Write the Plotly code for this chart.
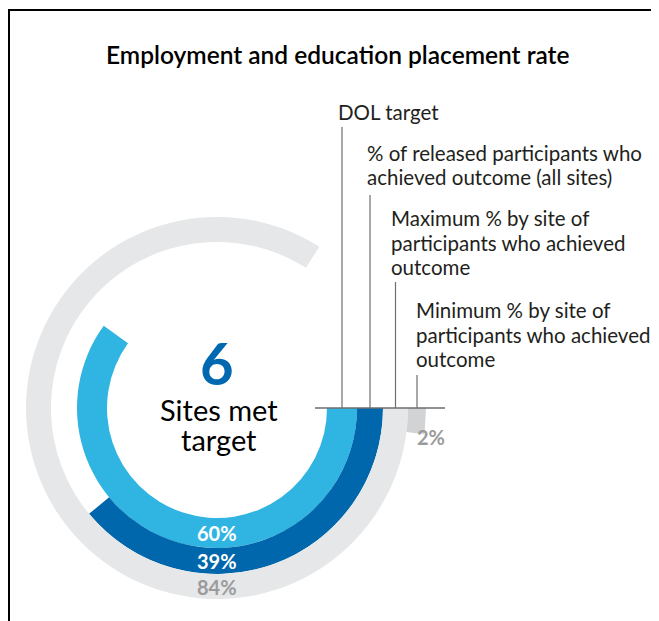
import plotly.graph_objects as go

# data
series = ["DOL target", "% of released participants who achieved outcome (all sites)",
          "Maximum % by site of participants who achieved outcome",
          "Minimum % by site of participants who achieved outcome"]
values = [60, 39, 84, 2]
sites_met = 6

legend_lines = [
    ["DOL target"],
    ["% of released participants who", "achieved outcome (all sites)"],
    ["Maximum % by site of", "participants who achieved", "outcome"],
    ["Minimum % by site of", "participants who achieved", "outcome"],
]

# layout constants, in pixels of the page (the page body has an 8px margin)
OFF = 8
W, H = 651, 613
cx, cy = 217, 408
R = 209
ring_base = [110, 140, 166, 191]
ring_thick = [30, 26, 25, 18]
colors = ["#30b5e3", "#0067ac", "#e6e7e8", "#d2d3d5"]
label_colors = ["white", "white", "#9b9b9b", "#9b9b9b"]
line_color = "#6d6e71"
FONT = "Lato"


def px(x):
    return (x - OFF) / W


def py(y):
    return 1 - (y - OFF) / H


fig = go.Figure()

for i, v in enumerate(values):
    fig.add_trace(go.Barpolar(
        r=[ring_thick[i]], base=[ring_base[i]],
        theta=[v * 1.8], width=[v * 3.6],
        marker=dict(color=colors[i], line=dict(width=0)),
        name=series[i], hoverinfo="name",
    ))

fig.update_layout(
    width=W, height=H,
    margin=dict(l=0, r=0, t=0, b=0, pad=0),
    paper_bgcolor="white",
    showlegend=False,
    polar=dict(
        domain=dict(x=[px(cx - R), px(cx + R)], y=[py(cy + R), py(cy - R)]),
        bgcolor="white",
        radialaxis=dict(range=[0, R], visible=False),
        angularaxis=dict(direction="clockwise", rotation=0, visible=False),
    ),
)

shapes = []
# frame (top and left)
shapes.append(dict(type="line", xref="paper", yref="paper", x0=px(8), x1=1, y0=py(10), y1=py(10),
                   line=dict(color="black", width=2)))
shapes.append(dict(type="line", xref="paper", yref="paper", x0=px(9), x1=px(9), y0=py(10), y1=0,
                   line=dict(color="black", width=2)))
# baseline
shapes.append(dict(type="line", xref="paper", yref="paper", x0=px(315), x1=px(445), y0=py(cy), y1=py(cy),
                   line=dict(color=line_color, width=1.5)))
leader_top = [127, 195, 282, 375]
text_top = [112, 153, 218, 310]
text_left = [336, 365, 389, 414]
line_gap = 24.5

annotations = []
for i in range(len(values)):
    lx = cx + ring_base[i] + ring_thick[i] / 2
    shapes.append(dict(type="line", xref="paper", yref="paper", x0=px(lx), x1=px(lx),
                       y0=py(leader_top[i]), y1=py(cy), line=dict(color=line_color, width=1.2)))
    for j, t in enumerate(legend_lines[i]):
        annotations.append(dict(x=px(text_left[i]), y=py(text_top[i] + j * line_gap), text=t,
                                xref="paper", yref="paper", xanchor="left", yanchor="middle",
                                showarrow=False, font=dict(family=FONT, size=20.5, color="#231f20")))

# value labels at the bottom of each ring
for i in range(3):
    ly = cy + ring_base[i] + ring_thick[i] / 2
    annotations.append(dict(x=px(cx), y=py(ly), text=f"{values[i]}%", xref="paper", yref="paper",
                            xanchor="center", yanchor="middle", showarrow=False,
                            font=dict(family=FONT, size=20, color=label_colors[i], weight=700)))
annotations.append(dict(x=px(431), y=py(437), text=f"{values[3]}%", xref="paper", yref="paper",
                        xanchor="center", yanchor="middle", showarrow=False,
                        font=dict(family=FONT, size=20, color=label_colors[3], weight=700)))

# centre text
annotations.append(dict(x=px(cx), y=py(362), text=str(sites_met), xref="paper", yref="paper",
                        xanchor="center", yanchor="middle", showarrow=False,
                        font=dict(family=FONT, size=58, color="#0067b1", weight=700)))
annotations.append(dict(x=px(cx + 2), y=py(409), text="Sites met", xref="paper", yref="paper",
                        xanchor="center", yanchor="middle", showarrow=False,
                        font=dict(family=FONT, size=29, color="black")))
annotations.append(dict(x=px(cx + 2), y=py(439), text="target", xref="paper", yref="paper",
                        xanchor="center", yanchor="middle", showarrow=False,
                        font=dict(family=FONT, size=29, color="black")))

# title
annotations.append(dict(x=px(338), y=py(54), text="Employment and education placement rate",
                        xref="paper", yref="paper", xanchor="center", yanchor="middle",
                        showarrow=False, font=dict(family=FONT, size=24.5, color="black", weight=600)))

fig.update_layout(shapes=shapes, annotations=annotations)

fig.write_html("out.html")
